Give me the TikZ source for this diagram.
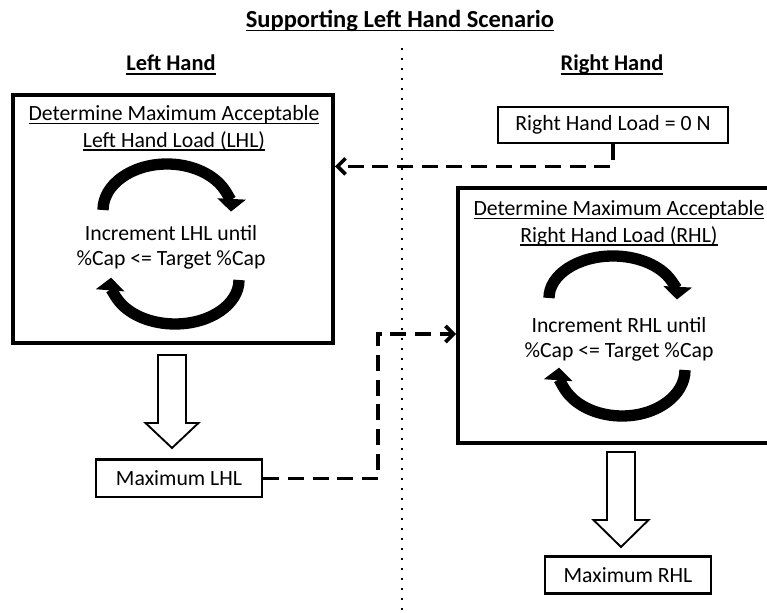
\documentclass[tikz,border=0pt]{standalone}
\usepackage{fontspec}
\setmainfont{Carlito}
\usetikzlibrary{arrows.meta,positioning,calc}

\newcommand{\ulined}[1]{\setbox0\hbox{#1}\rlap{\vrule width\wd0 height -1.7pt depth 2.8pt}\box0}

\tikzset{
  bigbox/.style={draw, line width=3pt, minimum width=240pt},
  smallbox/.style={draw, line width=2pt, minimum width=124.5pt, minimum height=28pt, font=\fontsize{16.3}{20}\selectfont},
  txt/.style={align=center, font=\fontsize{16.3}{20}\selectfont},
  looptxt/.style={align=center, font=\fontsize{16.3}{19}\selectfont},
  heading/.style={font=\fontsize{16.8}{20}\selectfont\bfseries},
  turn/.style={line width=8.5pt, -{Triangle[length=9.5pt,width=21pt]}},
  link/.style={line width=2.7pt, dash pattern=on 12pt off 6.5pt, -{Straight Barb[length=6pt,width=12pt]}},
  hollow/.style={draw, line width=1.4pt, fill=white, line join=miter},
  divider/.style={line width=1.6pt, dash pattern=on 1.6pt off 5.9pt}
}

\begin{document}
\begin{tikzpicture}[x=0.75pt,y=0.75pt]
  \path[use as bounding box, fill=white] (0,0) rectangle (767,613);

  % headings
  \node[heading, font=\fontsize{18.4}{22}\selectfont\bfseries] (title) at (400,592) {\ulined{Supporting Left Hand Scenario}};
  \node[heading] (lhead) at (171,548) {\ulined{Left Hand}};
  \node[heading] (rhead) at (612,548) {\ulined{Right Hand}};

  % divider
  \coordinate (dtop) at (402,565);
  \coordinate (dbot) at (402,0);
  \draw[divider] (dtop) -- (dbot);

  % left hand
  \node[bigbox, minimum height=186pt] (lbox) at (173,394) {};
  \node[txt] (ltitle) at (174,485) {\ulined{Determine Maximum Acceptable}\\\ulined{Left Hand Load (LHL)}};
  \node[looptxt] (lloop) at (171,366) {Increment LHL until\\\%Cap <= Target \%Cap};
  \draw[turn] (103,403) arc[start angle=180, end angle=-2, x radius=64, y radius=46];
  \draw[turn] (239,333) arc[start angle=0, end angle=-183, x radius=64, y radius=44];

  \coordinate (ltail) at (172,258);
  \draw[hollow] (ltail) ++(-14,0) -- ++(0,-68) -- ++(-12.5,0) -- ++(26.5,-25) -- ++(26.5,25) -- ++(-12.5,0) -- ++(0,68) -- cycle;
  \node[smallbox] (maxl) at (179,134.5) {Maximum LHL};

  % right hand
  \node[smallbox, minimum width=172.5pt, minimum height=27pt] (rload) at (613,488) {Right Hand Load = 0 N};
  \node[bigbox, minimum height=191pt] (rbox) at (618,297.5) {};
  \node[txt] (rtitle) at (619,390) {\ulined{Determine Maximum Acceptable}\\\ulined{Right Hand Load (RHL)}};
  \node[looptxt] (rloop) at (619,274) {Increment RHL until\\\%Cap <= Target \%Cap};
  \draw[turn] (549,315) arc[start angle=180, end angle=-2, x radius=64, y radius=42];
  \draw[turn] (685,243) arc[start angle=0, end angle=-183, x radius=63, y radius=46];

  \coordinate (rtail) at (621,161);
  \draw[hollow] (rtail) ++(-14,0) -- ++(0,-68) -- ++(-13.5,0) -- ++(27.5,-27) -- ++(27.5,27) -- ++(-13.5,0) -- ++(0,68) -- cycle;
  \node[smallbox] (maxr) at (628,38) {Maximum RHL};

  % dashed links
  \draw[link] (rload.south) -- ++(0,-22) coordinate (rbend) -- (rbend -| lbox.east);
  \coordinate (lbend) at (378,279);
  \draw[link] (maxl.east) -| (lbend) -- (lbend -| rbox.west);
\end{tikzpicture}
\end{document}
